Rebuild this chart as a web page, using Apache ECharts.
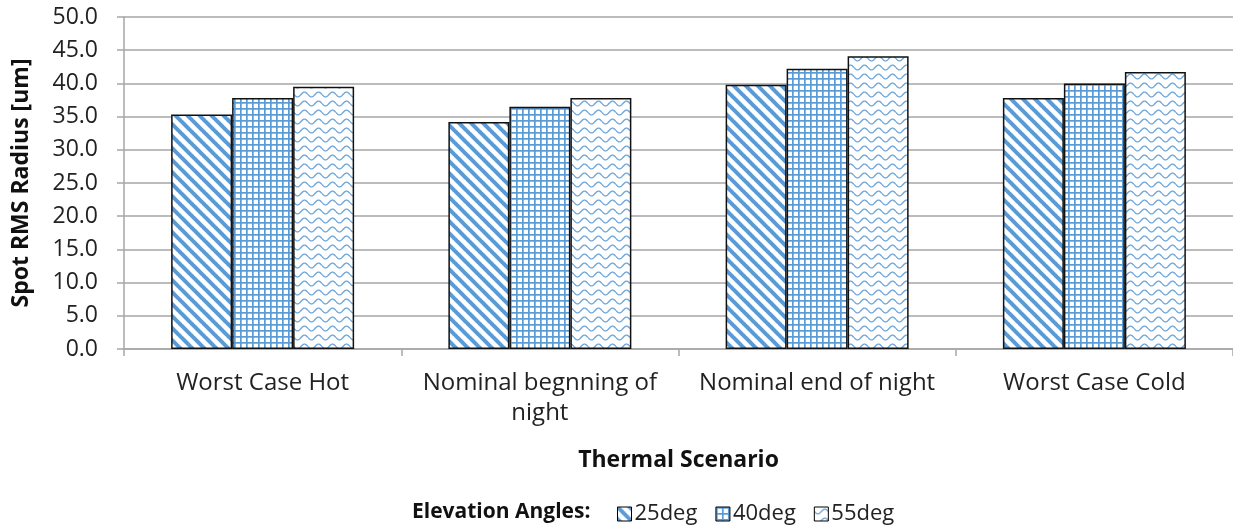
<!DOCTYPE html>
<html><head><meta charset="utf-8">
<script src="https://cdn.jsdelivr.net/npm/echarts@6/dist/echarts.min.js"></script>
<style>html,body{margin:0;padding:0;background:#fff}#c{width:1233px;height:529px}</style>
</head><body><div id="c"></div>
<script>
const categories = ['Worst Case Hot', 'Nominal begnning of\nnight', 'Nominal end of night', 'Worst Case Cold'];
const seriesNames = ['25deg', '40deg', '55deg'];
const values25 = [35.3, 34.2, 39.8, 37.8];
const values40 = [37.8, 36.5, 42.2, 40.0];
const values55 = [39.5, 37.8, 44.1, 41.7];
const yTicks = { min: 0, max: 50, interval: 5 };

const BLUE = '#5B9BD5';
function diag() {
  const s = 12, c = document.createElement('canvas'); c.width = s; c.height = s;
  const g = c.getContext('2d'); g.fillStyle = '#fff'; g.fillRect(0,0,s,s);
  g.strokeStyle = BLUE; g.lineWidth = 4;
  for (const o of [-s, 0, s]) { g.beginPath(); g.moveTo(o-1, -1); g.lineTo(o+s+1, s+1); g.stroke(); }
  return c;
}
function grid() {
  const s = 6, c = document.createElement('canvas'); c.width = s; c.height = s;
  const g = c.getContext('2d'); g.fillStyle = '#fff'; g.fillRect(0,0,s,s);
  g.fillStyle = BLUE; g.fillRect(0,0,s,1.7); g.fillRect(0,0,1.7,s);
  return c;
}
function wave() {
  const w = 14, h = 9, c = document.createElement('canvas'); c.width = w; c.height = h;
  const g = c.getContext('2d'); g.fillStyle = '#fff'; g.fillRect(0,0,w,h);
  g.strokeStyle = '#6FA7DB'; g.lineWidth = 1.4;
  g.beginPath();
  for (let x = 0; x <= w; x += 0.5) {
    const y = 4.5 + 2.4 * Math.sin(x / w * Math.PI * 2);
    if (x === 0) g.moveTo(x, y); else g.lineTo(x, y);
  }
  g.stroke();
  return c;
}
const pats = [diag(), grid(), wave()];
const data = [values25, values40, values55];
const font = "'Open Sans', 'Liberation Sans', sans-serif";

const chart = echarts.init(document.getElementById('c'));
chart.setOption({
  animation: false,
  grid: { left: 124, right: -3, top: 17, bottom: 180 },
  xAxis: {
    type: 'category', data: categories,
    axisLine: { lineStyle: { color: '#A6A6A6', width: 1.5 } },
    axisTick: { show: true, length: 7, lineStyle: { color: '#A6A6A6', width: 1.5 } },
    axisLabel: { interval: 0, fontFamily: font, fontSize: 24, color: '#222', margin: 19, lineHeight: 30 },
    name: 'Thermal Scenario', nameLocation: 'middle', nameGap: 100,
    nameTextStyle: { fontFamily: font, fontSize: 23, fontWeight: 'bold', color: '#111' }
  },
  yAxis: {
    type: 'value', min: yTicks.min, max: yTicks.max, interval: yTicks.interval,
    axisLine: { show: true, lineStyle: { color: '#A6A6A6', width: 1.5 } },
    axisTick: { show: true, length: 7, lineStyle: { color: '#A6A6A6', width: 1.5 } },
    splitLine: { lineStyle: { color: '#A6A6A6', width: 1.5 } },
    axisLabel: { fontFamily: font, fontSize: 23, color: '#222', margin: 26, formatter: v => v.toFixed(1) },
    name: 'Spot RMS Radius [um]', nameLocation: 'middle', nameGap: 91, nameRotate: 90,
    nameTextStyle: { fontFamily: font, fontSize: 23, fontWeight: 'bold', color: '#111' }
  },
  legend: {
    left: 612, top: 498, itemWidth: 14, itemHeight: 14, itemGap: 18,
    icon: 'rect',
    textStyle: { fontFamily: font, fontSize: 22, color: '#222', padding: [0,0,0,-2] },
    itemStyle: { borderColor: '#000', borderWidth: 1 },
    data: seriesNames
  },
  graphic: [{
    type: 'text', left: 412, top: 502,
    style: { text: 'Elevation Angles:', font: "bold 21px 'Open Sans', sans-serif", fill: '#111' }
  }],
  series: seriesNames.map((n, i) => ({
    name: n, type: 'bar', data: data[i],
    barGap: '0%', barCategoryGap: '34%',
    itemStyle: { color: { image: pats[i], repeat: 'repeat' }, borderColor: '#111', borderWidth: 1.5 }
  }))
});
</script></body></html>
